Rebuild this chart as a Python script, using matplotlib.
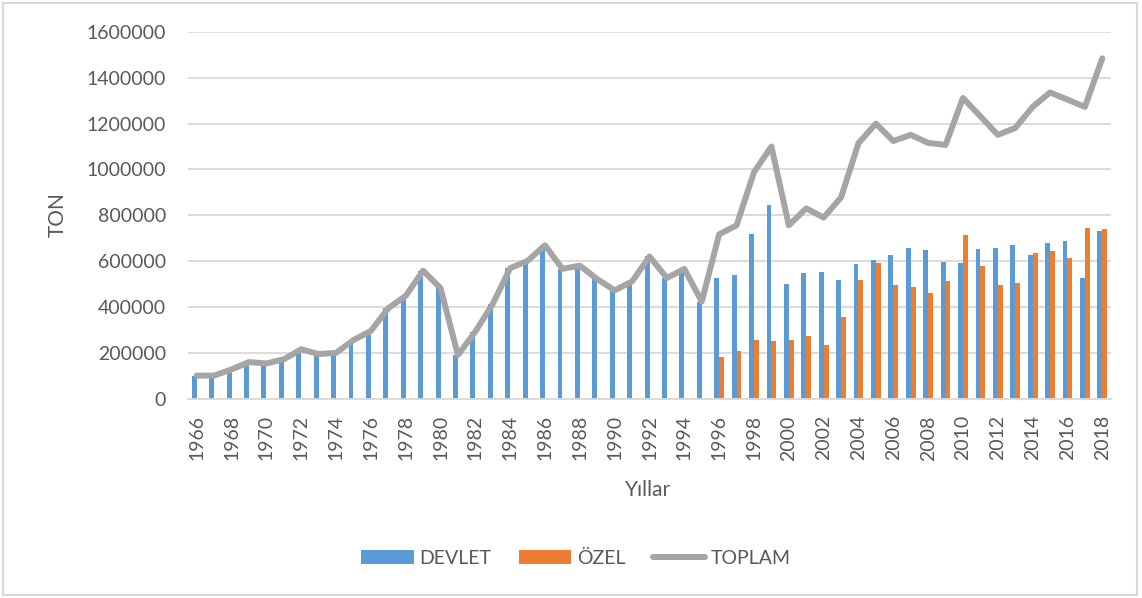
import numpy as np
import matplotlib.pyplot as plt
from matplotlib.patches import Rectangle

plt.rcParams['font.family'] = ['Lato', 'DejaVu Sans']

# Yillar
yillar = list(range(1966, 2019))

# Toplam uretim (TON)
toplam = [100000, 100000, 127000, 159000, 153000, 171000, 215000, 194000, 199000, 255000,
          295000, 394000, 448000, 558000, 482000, 190000, 292000, 413000, 569000, 601000,
          669000, 566000, 580000, 521000, 472000, 511000, 620000, 526000, 566000, 423000,
          717000, 756000, 988000, 1100000, 756000, 830000, 790000, 878000, 1115000, 1200000,
          1124000, 1151000, 1116000, 1107000, 1312000, 1232000, 1151000, 1181000, 1273000, 1336000,
          1305000, 1273000, 1485000]

# Devlet: 1996 oncesi uretimin tamami devlet
devlet = [100000, 100000, 127000, 159000, 153000, 171000, 215000, 194000, 199000, 255000,
          295000, 394000, 448000, 558000, 482000, 190000, 292000, 413000, 569000, 601000,
          669000, 566000, 580000, 521000, 472000, 511000, 620000, 526000, 566000, 423000,
          525000, 540000, 720000, 844000, 499000, 546000, 552000, 516000, 587000, 603000,
          628000, 658000, 650000, 594000, 590000, 652000, 655000, 671000, 628000, 680000,
          688000, 524000, 731000]

ozel = [0] * 30 + [183000, 208000, 257000, 252000, 256000, 274000, 234000, 356000, 519000, 593000,
                   494000, 487000, 462000, 512000, 715000, 579000, 496000, 503000, 636000, 645000,
                   612000, 746000, 742000]

mavi = '#5B9BD5'
turuncu = '#ED7D31'
gri = '#A5A5A5'
yazi = '#595959'

fig = plt.figure(figsize=(11.42, 5.98), dpi=100)
ax = fig.add_axes([188 / 1142, 1 - 398.5 / 598, 923 / 1142, (398.5 - 32) / 598])

x = np.arange(len(yillar))
w = 0.28
b1 = ax.bar(x - w / 2, devlet, width=w, color=mavi, label='DEVLET', zorder=2)
b2 = ax.bar(x + w / 2, ozel, width=w, color=turuncu, label='ÖZEL', zorder=2)
l1, = ax.plot(x, toplam, color=gri, lw=4.3, label='TOPLAM', zorder=3,
              solid_joinstyle='round', solid_capstyle='round')

ax.set_xlim(-0.5, len(yillar) - 0.5)
ax.set_ylim(0, 1600000)
ax.set_yticks(np.arange(0, 1600001, 200000))
ax.set_yticklabels([str(v) for v in range(0, 1600001, 200000)])
ax.set_xticks(x[::2])
ax.set_xticklabels([str(y) for y in yillar[::2]], rotation=90)

ax.grid(axis='y', color='#D9D9D9', lw=1.3, zorder=0)
ax.set_axisbelow(True)
for s in ['top', 'right', 'left']:
    ax.spines[s].set_visible(False)
ax.spines['bottom'].set_color('#D9D9D9')
ax.spines['bottom'].set_linewidth(1.3)
ax.tick_params(axis='y', length=0, pad=16, labelsize=14, labelcolor=yazi)
ax.tick_params(axis='x', length=0, pad=12, labelsize=14, labelcolor=yazi)

fig.text(58 / 1142, 1 - 215 / 598, 'TON', rotation=90, ha='center', va='center',
         fontsize=15, color=yazi)
fig.text(648 / 1142, 1 - 490 / 598, 'Yıllar', ha='center', va='center',
         fontsize=15, color=yazi)

fig.legend([b1, b2, l1], ['DEVLET', 'ÖZEL', 'TOPLAM'], loc='center',
           bbox_to_anchor=(576 / 1142, 1 - 558 / 598), ncol=3,
           frameon=False, fontsize=14, labelcolor=yazi, handlelength=2.7,
           handleheight=0.7, columnspacing=1.4, handletextpad=0.3)

fig.patches.append(Rectangle((3 / 1142, 3 / 598), 1134 / 1142, 592 / 598,
                             transform=fig.transFigure, fill=False,
                             edgecolor='#D9D9D9', lw=1.5))

plt.savefig('out.png', dpi=100)
